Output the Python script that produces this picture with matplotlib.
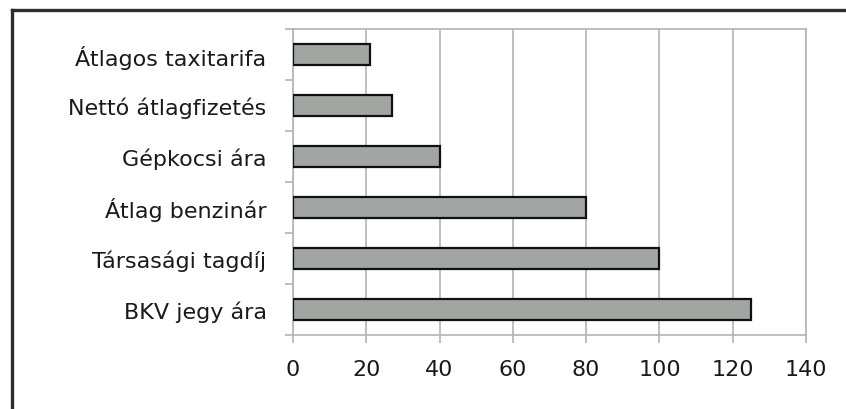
import matplotlib
matplotlib.use("Agg")
import matplotlib.pyplot as plt
from matplotlib.lines import Line2D
import numpy as np

# categories listed top to bottom
labels = ["Átlagos taxitarifa", "Nettó átlagfizetés", "Gépkocsi ára",
          "Átlag benzinár", "Társasági tagdíj", "BKV jegy ára"]
values = [21, 27, 40, 80, 100, 125]
xticks = [0, 20, 40, 60, 80, 100, 120, 140]

plt.rcParams['font.family'] = ['DejaVu Sans']

W, H = 846, 410
fig = plt.figure(figsize=(W / 100, H / 100), dpi=100)
ax = fig.add_axes([293 / W, (H - 336) / H, (806 - 293) / W, (336 - 30) / H])

grid_c = "#b4b4b4"
txt_c = "#1a1a1a"
y = np.arange(len(labels))
ax.barh(y, values, height=0.41, color="#a1a6a3", edgecolor="#111111",
        linewidth=1.6, zorder=3)

ax.set_xlim(0, 140)
ax.set_ylim(len(labels) - 0.5, -0.5)
ax.set_xticks(xticks)
ax.set_xticklabels([str(t) for t in xticks])
ax.xaxis.grid(True, color=grid_c, linewidth=1.2, zorder=0)

ax.set_yticks(y)
ax.set_yticklabels(labels)
ax.set_yticks(np.arange(-0.5, len(labels), 1.0), minor=True)
ax.tick_params(axis="y", which="major", length=0, pad=19, labelsize=16,
               labelcolor=txt_c)
ax.tick_params(axis="y", which="minor", length=6, width=1.2, color=grid_c)
ax.tick_params(axis="x", which="major", length=6, width=1.2, color=grid_c,
               pad=11, labelsize=16, labelcolor=txt_c)

for s in ax.spines.values():
    s.set_color(grid_c)
    s.set_linewidth(1.2)

# dark frame round the chart
fx, fy = 12 / W, (H - 11) / H
fig.add_artist(Line2D([fx, fx], [0, fy], color="#2e2e2e", linewidth=2.4))
fig.add_artist(Line2D([fx, 1], [fy, fy], color="#2e2e2e", linewidth=2.4))

fig.savefig("out.png", dpi=100)
